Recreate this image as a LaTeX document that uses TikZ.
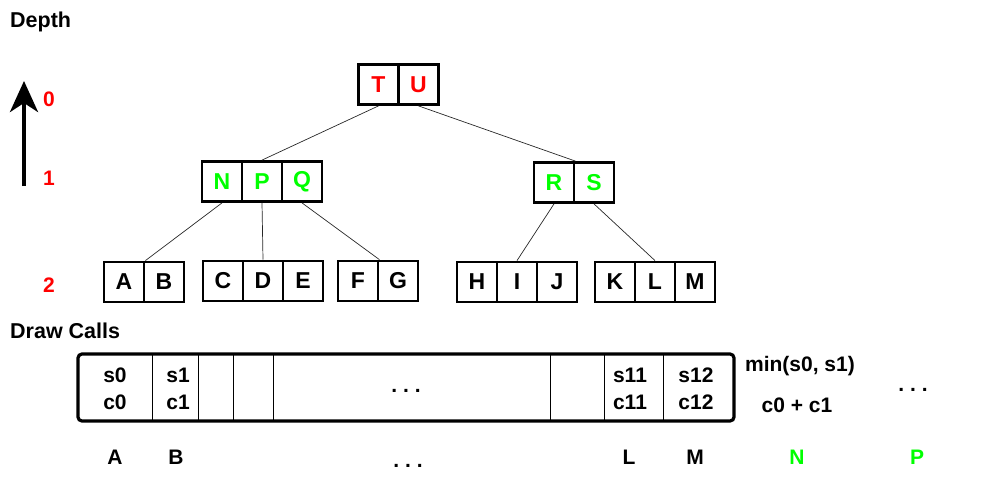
\documentclass[tikz,border=0pt]{standalone}
\usepackage{fontspec}
\setmainfont{Liberation Sans}
\usetikzlibrary{arrows.meta}
\definecolor{depthred}{RGB}{255,0,0}
\definecolor{nodegreen}{RGB}{0,255,0}
\tikzset{
cell/.style={draw, line width=2.8pt, minimum width=40pt, minimum height=40pt, inner sep=0pt, font=\fontsize{23}{27}\selectfont\bfseries},
redcell/.style={cell, text=depthred},
greencell/.style={cell, text=nodegreen},
link/.style={draw={rgb, 255:red, 40; green, 40; blue, 40}, line width=0.7pt},
heading/.style={anchor=west, inner sep=0pt, font=\fontsize{21.5}{25}\selectfont\bfseries},
lbl/.style={inner sep=0pt, font=\fontsize{21}{25}\selectfont\bfseries},
slottext/.style={lbl, align=center, font=\fontsize{21}{27}\selectfont\bfseries},
slot/.style={line width=0.9pt},
}
\begin{document}
\begin{tikzpicture}[x=1pt,y=1pt,yscale=-1,xscale=1]
\useasboundingbox (0,0) rectangle (1000,500);

%Text: headings
\node[heading] (depth) at (10,22) {Depth};
\node[heading] (drawcalls) at (10,331) {Draw Calls};

%Arrow: depth axis
\coordinate (axisfoot) at (24,186);
\coordinate (axistop) at (24,81);
\draw [line width=4pt, -{Stealth[length=31pt, width=28pt, inset=9pt]}] (axisfoot) -- (axistop);
\node[lbl, text=depthred] (d0) at (49,99) {0};
\node[lbl, text=depthred] (d1) at (49,178) {1};
\node[lbl, text=depthred] (d2) at (49,285) {2};

%Shape: root
\node[redcell] (t) at (378.5,84.5) {T};
\node[redcell] (u) at (418.5,84.5) {U};

%Shape: depth 1
\node[greencell] (n) at (222,181.5) {N};
\node[greencell] (p) at (262,181.5) {P};
\node[greencell] (q) at (302,181.5) {Q};
\node[greencell] (r) at (554,182.5) {R};
\node[greencell] (s) at (594,182.5) {S};

%Shape: depth 2
\node[cell] (a) at (124,282) {A};
\node[cell] (b) at (164,282) {B};
\node[cell] (c) at (223,281) {C};
\node[cell] (d) at (263,281) {D};
\node[cell] (e) at (303,281) {E};
\node[cell] (f) at (358,281) {F};
\node[cell] (g) at (398,281) {G};
\node[cell] (h) at (477,282) {H};
\node[cell] (i) at (517,282) {I};
\node[cell] (j) at (557,282) {J};
\node[cell] (k) at (615,282) {K};
\node[cell] (l) at (655,282) {L};
\node[cell] (m) at (695,282) {M};

%Straight Lines: tree links
\draw[link] (t.south) -- (p.north);
\draw[link] (u.south) -- (r.north east);
\draw[link] (n.south) -- (a.north east);
\draw[link] (p.south) -- (d.north);
\draw[link] (q.south) -- (f.north east);
\draw[link] (r.south) -- (i.north);
\draw[link] (s.south) -- (l.north);

%Shape: draw call buffer
\foreach \x in {152,198,233,273,550,604,663}
  \draw[slot] (\x,354) -- (\x,421);
\draw [line width=3.2pt, rounded corners=4pt] (78,354) rectangle (734,421);

\node[slottext] (sc0) at (115,388.5) {s0\\c0};
\node[slottext] (sc1) at (178,388.5) {s1\\c1};
\node[lbl, anchor=base] (middots) at (406,392) {.\ .\ .};
\node[slottext] (sc11) at (630,388.5) {s11\\c11};
\node[slottext] (sc12) at (696,388.5) {s12\\c12};

%Text: merged call
\node[lbl] (mins) at (800,366) {min(s0, s1)};
\node[lbl] (sumc) at (797,405) {c0 + c1};
\node[lbl, anchor=base] (moredots) at (913,391) {.\ .\ .};

%Text: call owners
\node[lbl, anchor=base] (ca) at (115,464) {A};
\node[lbl, anchor=base] (cb) at (176,464) {B};
\node[lbl, anchor=base] (cdots) at (408,467) {.\ .\ .};
\node[lbl, anchor=base] (cl) at (629,464) {L};
\node[lbl, anchor=base] (cm) at (695,464) {M};
\node[lbl, anchor=base, text=nodegreen] (cn) at (797,464) {N};
\node[lbl, anchor=base, text=nodegreen] (cp) at (917,464) {P};

\end{tikzpicture}
\end{document}
